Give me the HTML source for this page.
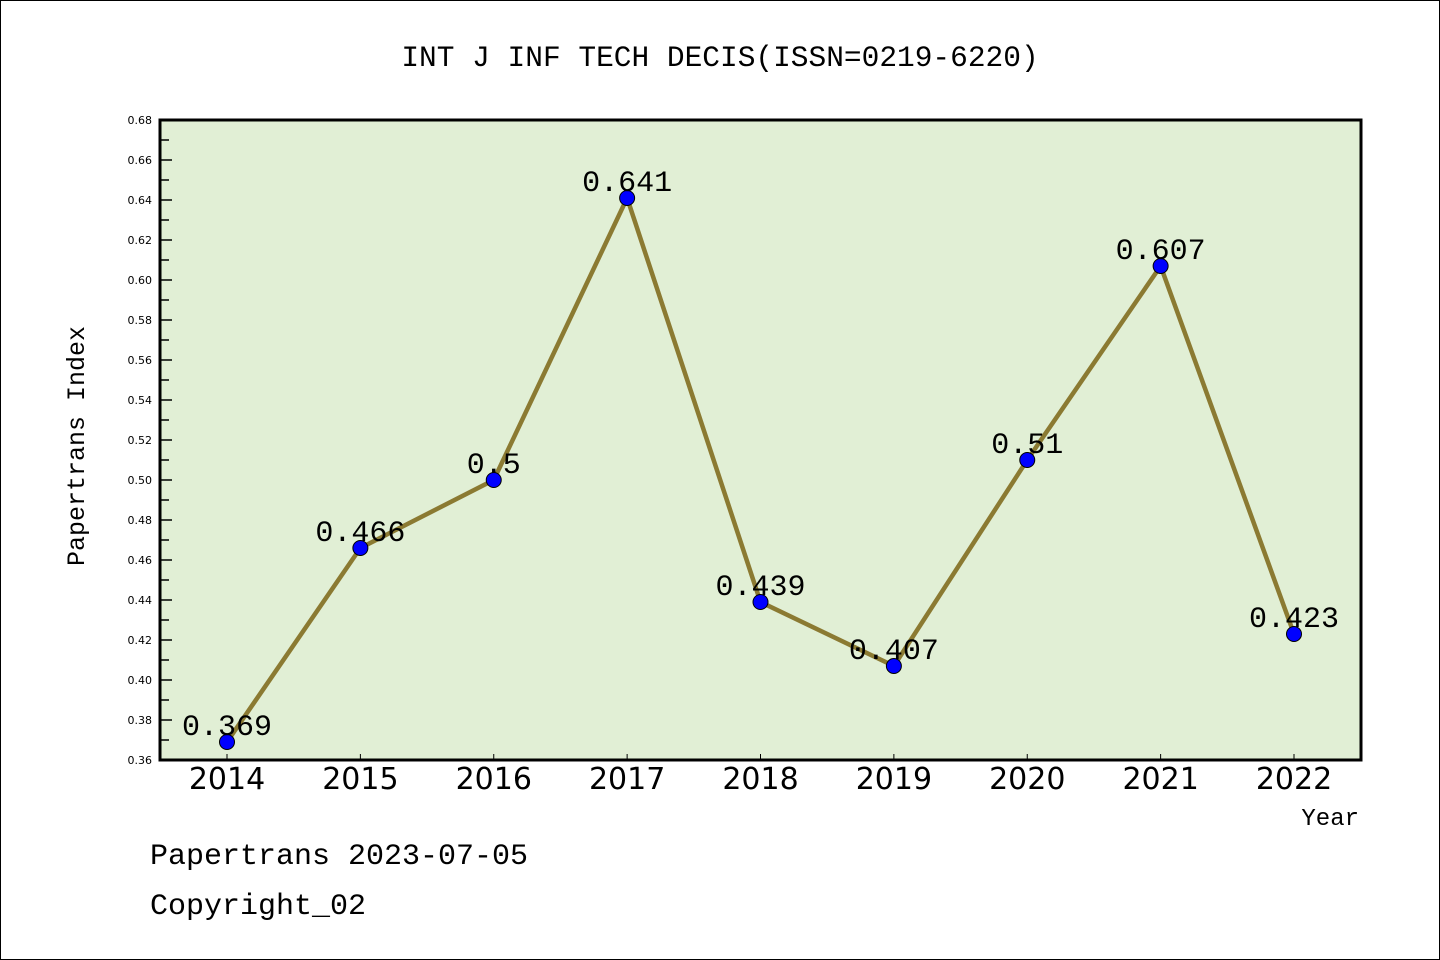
<!DOCTYPE html>
<html><head><meta charset="utf-8"><style>
html,body{margin:0;padding:0;background:#fff}
svg{display:block}
text{font-family:"Liberation Mono","WenQuanYi Zen Hei",monospace}
text.sans{font-family:"DejaVu Sans","Liberation Sans",sans-serif}
</style></head><body>
<svg id="chart" width="1440" height="960" viewBox="0 0 1440 960" xmlns="http://www.w3.org/2000/svg">
<rect x="0.5" y="0.5" width="1439" height="959" fill="#fff" stroke="#000" stroke-width="1"/>
<text x="720" y="66" font-size="29.5" text-anchor="middle">INT J INF TECH DECIS(ISSN=0219-6220)</text>
<rect x="160" y="120" width="1201" height="640" fill="#e1efd5"/>
<g id="yaxis"></g>
<g id="xaxis"></g>
<g id="series"></g>
<rect x="160" y="120" width="1201" height="640" fill="none" stroke="#000" stroke-width="3"/>
<text transform="translate(84,446) rotate(-90)" font-size="25" text-anchor="middle">Papertrans Index</text>
<text x="1359" y="825" font-size="24" text-anchor="end">Year</text>
<text x="150" y="864" font-size="30">Papertrans 2023-07-05</text>
<text x="150" y="914" font-size="30">Copyright_02</text>
</svg>
<script>
const years = [2014,2015,2016,2017,2018,2019,2020,2021,2022];
const values = [0.369,0.466,0.5,0.641,0.439,0.407,0.51,0.607,0.423];
const valueLabels = ["0.369","0.466","0.5","0.641","0.439","0.407","0.51","0.607","0.423"];
const yTicks = ["0.36","0.38","0.40","0.42","0.44","0.46","0.48","0.50","0.52","0.54","0.56","0.58","0.60","0.62","0.64","0.66","0.68"];

const NS="http://www.w3.org/2000/svg";
const yMin=0.36,yMax=0.68,plotTop=120,plotBottom=760;
function yS(v){return plotBottom-(v-yMin)/(yMax-yMin)*(plotBottom-plotTop);}
const x0=227,x1=1294;
function xS(i){return x0+(x1-x0)*i/(years.length-1);}
function mk(tag,attrs,parent){const e=document.createElementNS(NS,tag);for(const k in attrs)e.setAttribute(k,attrs[k]);parent.appendChild(e);return e;}

const ya=document.getElementById('yaxis');
yTicks.forEach((t,i)=>{
  const v=parseFloat(t),y=yS(v);
  const l=mk('line',{x1:160,x2:172,y1:y,y2:y,stroke:'#000','stroke-width':1.5},ya);
  
  
  const tx=mk('text',{x:152,y:y+4,'font-size':11,'text-anchor':'end','class':'sans'},ya);
  
  
  tx.textContent=t;
  if(i<yTicks.length-1){
    const ym=yS(v+0.01);
    const m=mk('line',{x1:160,x2:169,y1:ym,y2:ym,stroke:'#000','stroke-width':1.5},ya);
    
    
  }
});
const xa=document.getElementById('xaxis');
years.forEach((yr,i)=>{
  const x=xS(i);
  const l=mk('line',{x1:x,x2:x,y1:754,y2:760,stroke:'#000','stroke-width':1},xa);
  
  
  const tx=mk('text',{x:x,y:789,'font-size':30,'text-anchor':'middle','class':'sans'},xa);
  
  
  tx.textContent=yr;
});
const s=document.getElementById('series');
const pts=values.map((v,i)=>xS(i)+','+yS(v)).join(' ');
const pl=mk('polyline',{points:pts,fill:'none',stroke:'#8b7a32','stroke-width':4.5,'stroke-linejoin':'round'},s);


values.forEach((v,i)=>{
  const c=mk('circle',{cx:xS(i),cy:yS(v),r:7.5,fill:'#0000ff',stroke:'#000','stroke-width':1},s);
  
  
  const t=mk('text',{x:xS(i),y:yS(v)-7,'font-size':30,'text-anchor':'middle'},s);
  
  
  t.textContent=valueLabels[i];
});
</script>
</body></html>
